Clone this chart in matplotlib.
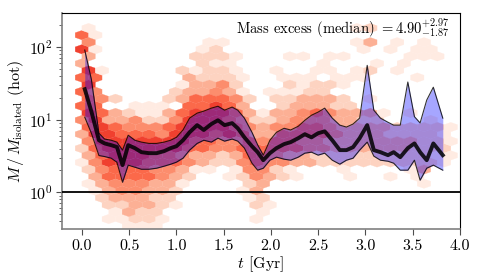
import numpy as np
import matplotlib
matplotlib.use('Agg')
import matplotlib.pyplot as plt

plt.rcParams['font.family'] = 'serif'
plt.rcParams['font.serif'] = ['cmr10']
plt.rcParams['mathtext.fontset'] = 'cm'
plt.rcParams['axes.unicode_minus'] = False
plt.rcParams['axes.formatter.use_mathtext'] = True

# Hexbin counts: one string per half column (t step = hex_dt),
# characters are the rows from bottom to top (log10 step = hex_dlogy)
hex_dt = 0.071
hex_logy0 = -0.565
hex_dlogy = 0.195
hex_counts = [
    "0000012345553650", "0001234565663410", "0001345665450110", "0023456654010000",
    "0123566630000000", "0134566532000000", "0124566530000000", "1334566420000000",
    "0234566541000000", "1234566410000000", "1233556521000000", "1223456410000000",
    "0123456421000000", "0023456532000000", "0012356640200000", "0001346653120000",
    "0000245665330000", "0000135665312000", "0000035665322100", "0000135665322100",
    "0000024566421200", "0000024665422100", "0000124655321000", "0000134554211000",
    "0001245543110000", "0012455432000000", "0123455320000000", "0123454310000000",
    "0010345320100000", "0000245432010000", "0000245532110000", "0000135432201000",
    "0000135543110000", "0000034543101000", "0000034543210000", "0000024553210000",
    "0000024543201000", "0000023443211000", "0000023432010000", "0000123332101000",
    "0000123332010000", "0000023330010110", "0000023320010100", "0000023331020320",
    "0000023320001000", "0000023310000000", "0000123200000100", "0000023200010100",
    "0000023200001000", "0000123210001000", "0000122200010100", "0001322200001100",
    "0000022210000100", "0000012200001000", "0000012100000000", "0000011100000000",
]

# median and spread of the mass excess
t_med = [0.03, 0.10, 0.18, 0.24, 0.31, 0.37, 0.43, 0.49, 0.56, 0.63, 0.71, 0.79,
         0.87, 0.94, 1.00, 1.07, 1.14, 1.22, 1.29, 1.37, 1.44, 1.51, 1.59, 1.65,
         1.72, 1.80, 1.86, 1.92, 1.99, 2.06, 2.14, 2.21, 2.29, 2.36, 2.43, 2.50,
         2.57, 2.65, 2.73, 2.80, 2.87, 2.94, 3.02, 3.09, 3.16, 3.24, 3.30, 3.37,
         3.45, 3.52, 3.58, 3.65, 3.72, 3.82]
med = [26.3, 13.0, 5.2, 4.7, 4.45, 4.2, 2.36, 4.45, 4.05, 3.56, 3.45, 3.45,
       3.68, 4.05, 4.3, 5.2, 6.7, 8.4, 7.2, 8.7, 9.8, 8.4, 8.95, 7.6,
       5.7, 4.3, 3.56, 2.76, 3.45, 4.05, 4.6, 4.9, 5.55, 6.3, 5.7, 6.5,
       6.9, 5.2, 3.8, 3.8, 4.17, 5.55, 8.4, 3.8, 3.56, 3.24, 3.56, 3.04,
       4.05, 4.7, 3.56, 2.76, 4.7, 3.24]
low = [10.8, 6.5, 3.2, 3.1, 2.94, 2.59, 1.37, 2.36, 2.21, 2.07, 2.07, 2.14,
       2.28, 2.43, 2.59, 2.94, 3.8, 4.7, 5.2, 4.9, 5.55, 5.05, 5.4, 5.05,
       4.05, 2.51, 2.01, 2.14, 2.76, 3.04, 2.85, 2.76, 3.04, 3.45, 3.56, 3.24,
       3.45, 2.76, 2.43, 2.76, 2.94, 3.8, 4.9, 3.14, 2.76, 2.67, 2.51, 2.01,
       2.01, 2.76, 1.46, 2.14, 2.36, 2.01]
upp = [91.0, 36.0, 6.5, 5.4, 5.2, 4.9, 3.8, 6.1, 5.2, 4.9, 4.7, 4.7,
       4.9, 5.2, 5.7, 7.2, 10.5, 12.3, 13.1, 14.4, 15.3, 13.5, 14.9, 13.5,
       10.5, 6.7, 4.5, 3.24, 5.2, 6.7, 7.6, 7.2, 8.1, 9.8, 11.5, 12.7,
       14.4, 10.5, 8.4, 7.9, 8.7, 10.5, 56.0, 13.5, 10.5, 9.2, 8.4, 8.4,
       33.0, 11.0, 9.0, 18.6, 28.0, 10.5]

hx, hy, hc = [], [], []
for c, col in enumerate(hex_counts):
    for j, ch in enumerate(col):
        if ch != '0':
            hx.append(c * hex_dt)
            hy.append(10 ** (hex_logy0 + (j + 0.5 * (c % 2)) * hex_dlogy))
            hc.append(int(ch))

fig = plt.figure(figsize=(4.85, 2.77), dpi=100)
ax = fig.add_axes([0.128, 0.173, 0.820, 0.780])

ax.hexbin(hx, hy, C=hc, reduce_C_function=np.max, gridsize=(28, 15),
          extent=(0, 56 * hex_dt, hex_logy0, hex_logy0 + 15 * hex_dlogy),
          yscale='log', cmap='Reds', vmin=0.45, vmax=9.5,
          linewidths=0.2, edgecolors='face', zorder=1)

ax.fill_between(t_med, low, upp, color='blue', alpha=0.35, lw=0, zorder=2)
ax.plot(t_med, upp, color='k', lw=0.8, alpha=0.8, zorder=3)
ax.plot(t_med, low, color='k', lw=0.8, alpha=0.8, zorder=3)
ax.plot(t_med, med, color='k', lw=2.8, alpha=0.85, zorder=4)
ax.axhline(1.0, color='k', lw=1.3, zorder=3)

ax.set_yscale('log')
ax.set_xlim(-0.21, 4.0)
ax.set_ylim(0.31, 295)
ax.set_xticks(np.arange(0, 4.01, 0.5))
ax.set_xticklabels(['%.1f' % v for v in np.arange(0, 4.01, 0.5)])

ax.tick_params(which='both', direction='out', labelsize=11.5, colors='0.3', labelcolor='k')
ax.tick_params(which='major', length=4, pad=3)
ax.tick_params(which='minor', length=2)
for s in ['left', 'bottom']:
    ax.spines[s].set_color('0.5')
    ax.spines[s].set_linewidth(1.2)

ax.set_xlabel(r'$t$ [Gyr]', fontsize=11.5, labelpad=1)
ax.set_ylabel(r'$M\,/\,M_{\rm isolated}$ (hot)', fontsize=11.5, labelpad=2)
ax.text(0.975, 0.985, r'Mass excess (median) $= 4.90^{+2.97}_{-1.87}$',
        transform=ax.transAxes, ha='right', va='top', fontsize=10.5)

fig.savefig('out.png', dpi=100)
